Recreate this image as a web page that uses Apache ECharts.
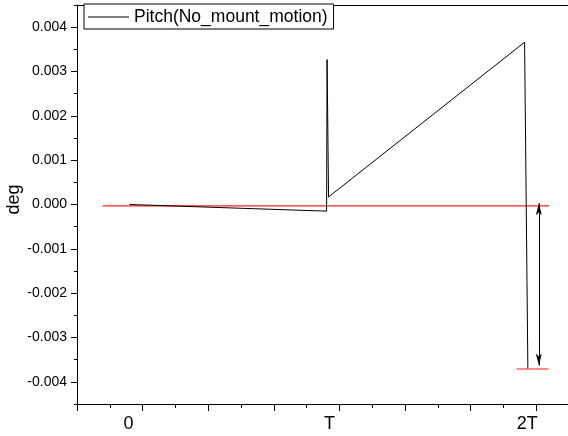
<!DOCTYPE html>
<html>
<head>
<meta charset="utf-8">
<script src="https://cdn.jsdelivr.net/npm/echarts@6/dist/echarts.min.js"></script>
<style>
html,body{margin:0;padding:0;background:#fff;}
#chart{width:568px;height:436px;}
</style>
</head>
<body>
<div id="chart"></div>
<script>
// x in units of T/3 (T = 3, 2T = 6); y in deg
var seriesName = 'Pitch(No_mount_motion)';
var pitchX = [-0.2, 2.805, 2.812, 2.835, 5.823, 5.873];
var pitchY = [0.0, -0.00015, 0.00327, 0.00017, 0.00366, -0.00370];
var zeroRefX = [-0.61, 6.2];
var zeroRefY = [-0.00003, -0.00003];
var minRefX = [5.7, 6.19];
var minRefY = [-0.00371, -0.00371];
var arrowX = [6.04, 6.04];
var arrowY = [0.00003, -0.00363];
var xTickValues = [0, 3, 6];
var xTickLabels = ['0', 'T', '2T'];
var yMajorTicks = [-0.004, -0.003, -0.002, -0.001, 0, 0.001, 0.002, 0.003, 0.004];

function pairs(xs, ys) { return xs.map(function (x, i) { return [x, ys[i]]; }); }

var FONT = 'Liberation Sans, Arial, sans-serif';
var richNames = ['l0', 'l1', 'l2'];
var richPads = [28, 20, 18];
var rich = {};
richNames.forEach(function (n, i) {
  rich[n] = {fontSize: 18, fontFamily: FONT, color: '#000', padding: [0, richPads[i], 0, 0]};
});
var chart = echarts.init(document.getElementById('chart'), null, {renderer: 'canvas'});
var option = {
  animation: false,
  backgroundColor: '#fff',
  grid: {left: 77, top: 5, width: 492, height: 399, containLabel: false, outerBoundsMode: 'none'},
  legend: {
    show: true,
    left: 84, top: 4,
    padding: [4, 6, 3, 4],
    borderColor: '#000', borderWidth: 1, borderRadius: 0,
    backgroundColor: '#fff',
    itemWidth: 41, itemHeight: 1,
    data: [{name: seriesName, icon: 'path://M0,0L41,0L41,1L0,1Z'}],
    itemStyle: {color: '#000', borderWidth: 0},
    textStyle: {fontSize: 17.5, fontFamily: FONT, color: '#000'},
    selectedMode: false
  },
  xAxis: [
    {type: 'value', min: -1, max: 6.5, interval: 0.5, position: 'bottom',
     axisLine: {show: true, onZero: false, lineStyle: {color: '#000', width: 1}},
     axisTick: {show: true, length: 4, lineStyle: {color: '#000'}},
     axisLabel: {show: false}, splitLine: {show: false}},
    {type: 'value', min: -1, max: 6.5, interval: 1, position: 'bottom',
     axisLine: {show: false, onZero: false},
     axisTick: {show: true, length: 7, lineStyle: {color: '#000'}, customValues: [-1, 0, 1, 2, 3, 4, 5, 6]},
     axisLabel: {show: true, customValues: xTickValues, margin: 11, fontSize: 18, fontFamily: FONT, color: '#000',
       rich: rich,
       formatter: function (v) {
         var i = xTickValues.indexOf(Math.round(v));
         return i < 0 ? '' : '{' + richNames[i] + '|' + xTickLabels[i] + '}';
       }},
     splitLine: {show: false}},
    {type: 'value', min: -1, max: 6.5, position: 'top',
     axisLine: {show: true, onZero: false, lineStyle: {color: '#000', width: 1}},
     axisTick: {show: false}, axisLabel: {show: false}, splitLine: {show: false}}
  ],
  yAxis: [
    {type: 'value', min: -0.0045, max: 0.0045, interval: 0.0005, position: 'left',
     name: 'deg', nameLocation: 'middle', nameRotate: 90, nameGap: 54, nameMoveOverlap: false,
     nameTextStyle: {fontSize: 18, fontFamily: FONT, color: '#000', padding: [0, 0, 0, 10]},
     axisLine: {show: true, onZero: false, lineStyle: {color: '#000', width: 1}},
     axisTick: {show: true, length: 3, lineStyle: {color: '#000'}},
     axisLabel: {show: true, customValues: yMajorTicks, margin: 10, fontSize: 14, fontFamily: FONT, color: '#000',
       formatter: function (v) { return v.toFixed(3); }},
     splitLine: {show: false}},
    {type: 'value', min: -0.0045, max: 0.0045, position: 'left',
     axisLine: {show: false, onZero: false},
     axisTick: {show: true, length: 6, lineStyle: {color: '#000'}, customValues: yMajorTicks},
     axisLabel: {show: false}, splitLine: {show: false}}
  ],
  series: [
    {name: 'zeroRef', type: 'line', xAxisIndex: 0, yAxisIndex: 0, data: pairs(zeroRefX, zeroRefY),
     symbol: 'none', lineStyle: {color: '#ff2020', width: 1.2}, z: 1, silent: true},
    {name: 'minRef', type: 'line', xAxisIndex: 0, yAxisIndex: 0, data: pairs(minRefX, minRefY),
     symbol: 'none', lineStyle: {color: '#ff2020', width: 1.2}, z: 1, silent: true},
    {name: seriesName, type: 'line', xAxisIndex: 0, yAxisIndex: 0, data: pairs(pitchX, pitchY),
     symbol: 'none', color: '#000', itemStyle: {color: '#000'}, lineStyle: {color: '#000', width: 1}, z: 3},
    {name: 'arrow', type: 'lines', coordinateSystem: 'cartesian2d', xAxisIndex: 0, yAxisIndex: 0,
     symbol: ['arrow', 'arrow'], symbolSize: [[4.5, 12], [4.5, 12]],
     lineStyle: {color: '#000', width: 1, opacity: 1},
     data: [{coords: pairs(arrowX, arrowY)}], z: 4, silent: true}
  ]
};
chart.setOption(option);
</script>
</body>
</html>
